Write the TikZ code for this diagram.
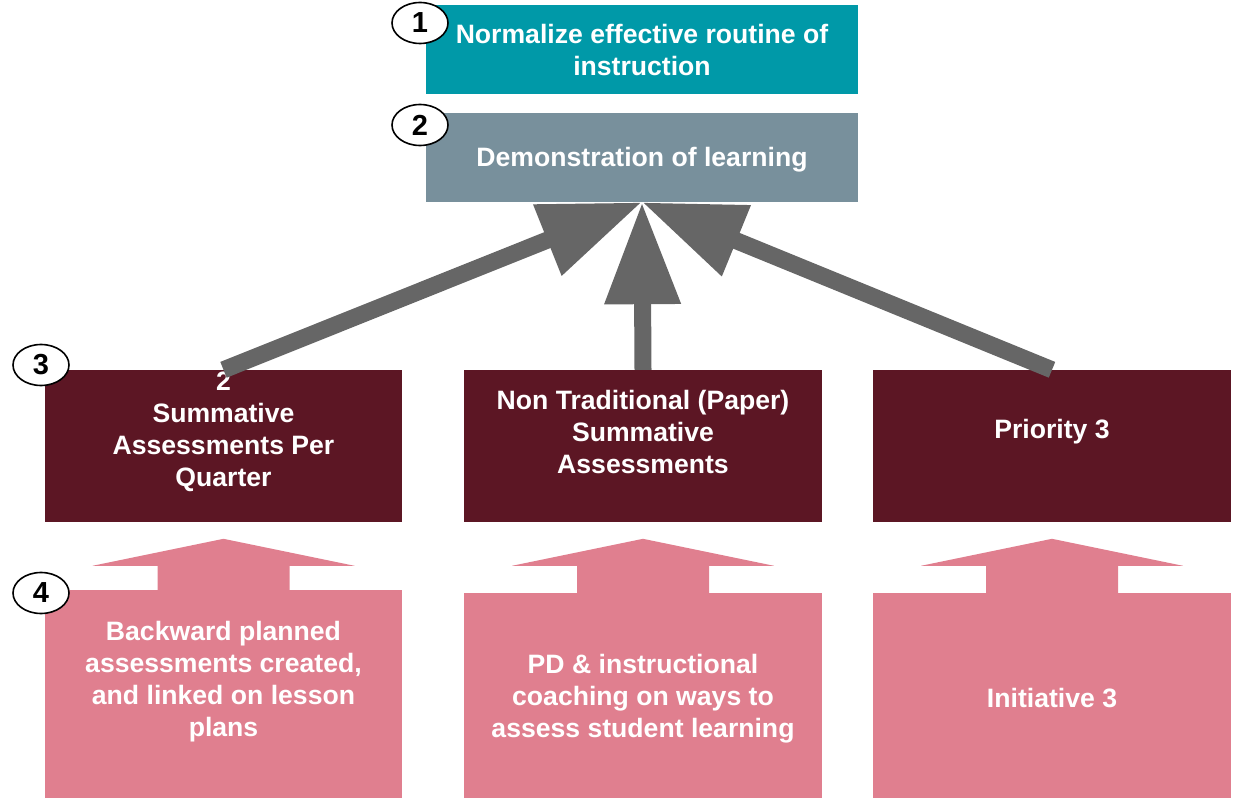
\documentclass[tikz,border=0pt]{standalone}
\usepackage{fontspec}
\setmainfont{Liberation Sans}
\usetikzlibrary{arrows.meta,shapes.geometric}
\definecolor{tealbox}{HTML}{0099A8}
\definecolor{slatebox}{HTML}{78909C}
\definecolor{maroonbox}{HTML}{5C1624}
\definecolor{pinkbox}{HTML}{E07F8F}
\definecolor{arrowgrey}{HTML}{666666}
\tikzset{
  panel/.style={rectangle, inner sep=0pt, draw=none},
  lbl/.style={text=white, align=center, inner sep=0pt,
    font=\bfseries\fontsize{26.6}{32}\selectfont},
  badge/.style={ellipse, draw=black, line width=1.6pt, fill=white,
    minimum width=56pt, minimum height=41pt, inner sep=0pt,
    font=\bfseries\fontsize{29}{32}\selectfont},
  bigarrow/.style={draw=arrowgrey, line width=17pt,
    -{Triangle[length=102pt,width=72pt,fill=arrowgrey]}},
}
\begin{document}
\begin{tikzpicture}[x=1pt,y=-1pt]
\useasboundingbox (0,0) rectangle (1237,799);

% top goal boxes
\node[panel, fill=tealbox, minimum width=432pt, minimum height=89pt] (goal) at (642,49.5) {};
\node[lbl] (goalt) at (goal.center) {Normalize effective routine of\\instruction};
\node[panel, fill=slatebox, minimum width=432pt, minimum height=89pt] (demo) at (642,157.5) {};
\node[lbl] (demot) at ([yshift=-2pt]demo.center) {Demonstration of learning};

% priority boxes
\node[panel, fill=maroonbox, minimum width=357pt, minimum height=152pt] (m1) at (223.5,446) {};
\node[panel, fill=maroonbox, minimum width=358pt, minimum height=152pt] (m2) at (643,446) {};
\node[panel, fill=maroonbox, minimum width=358pt, minimum height=152pt] (m3) at (1052,446) {};
\node[lbl] (m1t) at (223.5,432) {2\\Summative\\Assessments Per\\Quarter};
\node[lbl] (m2t) at (643,432) {Non Traditional (Paper)\\Summative\\Assessments};
\node[lbl] (m3t) at (1052,432) {Priority 3};

% initiative boxes
\node[panel, fill=pinkbox, minimum width=357pt, minimum height=208pt] (p1) at (223.5,694) {};
\node[panel, fill=pinkbox, minimum width=358pt, minimum height=205pt] (p2) at (643,695.5) {};
\node[panel, fill=pinkbox, minimum width=358pt, minimum height=205pt] (p3) at (1052,695.5) {};
\node[lbl] (p1t) at (223.5,682) {Backward planned\\assessments created,\\and linked on lesson\\plans};
\node[lbl] (p2t) at (643,699) {PD \& instructional\\coaching on ways to\\assess student learning};
\node[lbl] (p3t) at (1052,698) {Initiative 3};

% block arrows rising from the initiative boxes
\foreach \b/\d in {p1/0, p2/3, p3/3} {
  \fill[pinkbox, shift={(\b.north)}]
    (0,-51-\d) -- (131,-24-\d) -- (66,-24-\d) -- (66,0) -- (-66,0)
    -- (-66,-24-\d) -- (-131,-24-\d) -- cycle;
}

% grey arrows into the demonstration box
\draw[bigarrow] (m1.north) -- (demo.south);
\draw[bigarrow] (m2.north) -- (demo.south);
\draw[bigarrow] (m3.north) -- (demo.south);

% level badges
\node[badge] (b1) at (420,23) {1};
\node[badge] (b2) at (420,125) {2};
\node[badge] (b3) at (41,365) {3};
\node[badge] (b4) at (41,593) {4};
\end{tikzpicture}
\end{document}
